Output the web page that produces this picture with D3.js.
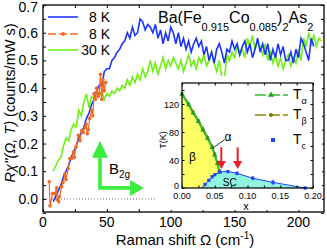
<!DOCTYPE html>
<html><head><meta charset="utf-8">
<script src="https://cdn.jsdelivr.net/npm/d3@7/dist/d3.min.js"></script>
<style>body{margin:0;background:#fff}svg{display:block;font-family:"Liberation Sans",Arial,sans-serif}</style>
</head><body><svg id="c" width="327" height="248"></svg>
<script>
// ---- main chart data ----
const blueX = [8,10,12,14,16,18,20,22,24,26,28,30,32,34,36,38,40,42,44,46,48,50,52,54,56,58,60,62,64,66,68,70,72,74,76,78,80,82,84,86,88,90,92,94,96,98,100,102,104,106,108,110,112,114,116,118,120,122,124,126,128,130,132,134,136,138,140,142,144,146,148,150,152,154,156,158,160,162,164,166,168,170,172,174,176,178,180,182,184,186,188,190,192,194,196,198,200,202,204,206,208,210,212];
const blueY = [-0.01,0.01,0.03,0.05,0.08,0.10,0.12,0.15,0.17,0.19,0.22,0.24,0.26,0.29,0.31,0.34,0.36,0.39,0.41,0.41,0.46,0.47,0.47,0.50,0.51,0.53,0.54,0.56,0.57,0.60,0.58,0.62,0.59,0.60,0.65,0.64,0.61,0.63,0.62,0.60,0.63,0.58,0.61,0.56,0.60,0.57,0.62,0.60,0.56,0.60,0.55,0.58,0.54,0.57,0.53,0.56,0.58,0.55,0.57,0.52,0.55,0.50,0.53,0.49,0.54,0.56,0.53,0.49,0.54,0.53,0.57,0.54,0.56,0.52,0.55,0.57,0.53,0.56,0.51,0.54,0.58,0.53,0.56,0.52,0.56,0.50,0.54,0.51,0.56,0.52,0.55,0.50,0.50,0.53,0.49,0.54,0.51,0.58,0.56,0.53,0.50,0.58,0.55,0.59,0.47];
const greenX = [8,10,12,14,16,18,20,22,24,26,28,30,32,34,36,38,40,42,44,46,48,50,52,54,56,58,60,62,64,66,68,70,72,74,76,78,80,82,84,86,88,90,92,94,96,98,100,102,104,106,108,110,112,114,116,118,120,122,124,126,128,130,132,134,136,138,140,142,144,146,148,150,152,154,156,158,160,162,164,166,168,170,172,174,176,178,180,182,184,186,188,190,192,194,196,198,200,202,204,206,208,210,212,214,216,218];
const greenY = [0.10,0.12,0.14,0.15,0.19,0.22,0.21,0.25,0.27,0.26,0.32,0.30,0.35,0.38,0.33,0.37,0.36,0.39,0.37,0.39,0.36,0.38,0.37,0.39,0.38,0.40,0.39,0.41,0.40,0.43,0.41,0.44,0.42,0.45,0.43,0.47,0.44,0.46,0.50,0.46,0.49,0.45,0.48,0.51,0.47,0.50,0.48,0.51,0.49,0.47,0.50,0.46,0.49,0.52,0.48,0.50,0.47,0.51,0.49,0.52,0.48,0.50,0.53,0.49,0.46,0.50,0.44,0.43,0.52,0.50,0.53,0.51,0.55,0.52,0.54,0.51,0.58,0.55,0.59,0.54,0.57,0.55,0.52,0.56,0.50,0.53,0.49,0.52,0.48,0.51,0.47,0.50,0.52,0.48,0.51,0.49,0.54,0.50,0.58,0.55,0.60,0.56,0.59,0.55,0.58,0.57];
const orangeX = [4.9,5.5,7.6,9.4,10.7,11.2,12.3,12.8,14.6,15.7,17.2,18,19.8,21,22.4,23.8,24.5,25.8,27.7,29,30.3,31.5,32.9,33.8,34.7,35.5,36.5,38,39,40,41,42,43,44,45,46,47,48,49];
const orangeY = [0.062,-0.025,0.02,0.02,0.04,-0.003,-0.01,0.008,0.044,0.06,0.09,0.07,0.11,0.146,0.146,0.17,0.15,0.187,0.23,0.21,0.246,0.24,0.258,0.27,0.235,0.25,0.29,0.32,0.30,0.38,0.36,0.40,0.37,0.38,0.45,0.36,0.43,0.39,0.42];
const legendLabels = ["8 K","8 K","30 K"];
const xTicks = [0,50,100,150,200];
const yTicks = [0.0,0.1,0.2,0.3,0.4,0.5,0.6,0.7];

// ---- inset (phase diagram) data ----
const phaseX = [0,0.01,0.017,0.025,0.032,0.039,0.046,0.05,0.054,0.057];
const tBeta  = [135,121,109,97,85,73,60,49,37,25];
const tAlpha = [134,119,107,95,83,71,58,47,35,23];
const scX   = [0.03,0.035,0.041,0.046,0.05,0.058,0.07,0.084,0.108,0.139,0.188];
const tc    = [0,5,11,16,19,23,23.5,21,14,8,0];
const tcErr = [0,2,2,2,2,2,2,3,3,4,2];
const arrowX = [0.06,0.085];
const inXTicks = [0,0.05,0.1,0.15,0.2];
const inYTicks = [0,40,80,120];

const svg = d3.select("#c");
const x = d3.scaleLinear().domain([0,220]).range([43,324]);
const y = d3.scaleLinear().domain([-0.047,0.7]).range([212,5]);
const BLUE="#1a35ff", GREEN="#6ef010", ORANGE="#f26a22";

svg.append("line").attr("x1",x(0)).attr("x2",x(90)).attr("y1",y(0)).attr("y2",y(0))
  .attr("stroke","#666").attr("stroke-width",1).attr("stroke-dasharray","1,2");

const line = d3.line().x(d=>x(d[0])).y(d=>y(d[1]));
const z = (a,b)=>a.map((v,i)=>[v,b[i]]);
svg.append("path").datum(z(greenX,greenY)).attr("d",line).attr("fill","none").attr("stroke",GREEN).attr("stroke-width",1.6);
svg.append("path").datum(z(blueX,blueY)).attr("d",line).attr("fill","none").attr("stroke",BLUE).attr("stroke-width",1.6);
svg.append("path").datum(z(orangeX,orangeY)).attr("d",line).attr("fill","none").attr("stroke",ORANGE).attr("stroke-width",1.2);
svg.append("g").selectAll("circle").data(z(orangeX,orangeY)).join("circle")
  .attr("cx",d=>x(d[0])).attr("cy",d=>y(d[1])).attr("r",1.8).attr("fill",ORANGE);

const gb = svg.append("g").attr("transform",`translate(0,${y.range()[0]})`);
gb.call(d3.axisBottom(x).tickValues(d3.range(0,221,25)).tickSize(-3).tickFormat(""));
const gt = svg.append("g").attr("transform",`translate(0,${y.range()[1]})`);
gt.call(d3.axisTop(x).tickValues(d3.range(0,221,25)).tickSize(-3).tickFormat(""));
const gl = svg.append("g").attr("transform",`translate(${x.range()[0]},0)`);
gl.call(d3.axisLeft(y).tickValues(d3.range(-0.05,0.701,0.05)).tickSize(-3).tickFormat(""));
const gr = svg.append("g").attr("transform",`translate(${x.range()[1]},0)`);
gr.call(d3.axisRight(y).tickValues(d3.range(-0.05,0.701,0.05)).tickSize(-3).tickFormat(""));
[gb,gt,gl,gr].forEach(g=>{g.select(".domain").remove(); g.selectAll("line").attr("stroke","#000");});
svg.append("rect").attr("x",x.range()[0]).attr("y",y.range()[1]).attr("width",x.range()[1]-x.range()[0])
  .attr("height",y.range()[0]-y.range()[1]).attr("fill","none").attr("stroke","#000").attr("stroke-width",1.3);
svg.append("g").selectAll("text").data(xTicks).join("text").attr("x",d=>x(d)).attr("y",227)
  .attr("text-anchor","middle").attr("font-size",14).text(d=>d);
svg.append("g").selectAll("text").data(yTicks).join("text").attr("x",38).attr("y",d=>Math.max(y(d)+5,12))
  .attr("text-anchor","end").attr("font-size",14).text(d=>d.toFixed(1));

const xl = svg.append("text").attr("x",185).attr("y",245).attr("text-anchor","middle").attr("font-size",15);
xl.append("tspan").text("Raman shift Ω (cm");
xl.append("tspan").attr("font-size",10).attr("dy",-6).text("-1");
xl.append("tspan").attr("dy",6).text(")");
const yl = svg.append("text").attr("transform","translate(15,103) rotate(-90)").attr("text-anchor","middle").attr("font-size",14.5);
yl.append("tspan").attr("font-style","italic").text("Rχ''(Ω, T)");
yl.append("tspan").text(" (counts/mW s)");

const tt = svg.append("text").attr("x",158).attr("y",23).attr("font-size",16);
tt.append("tspan").text("Ba(Fe");
tt.append("tspan").attr("font-size",11).attr("dy",8).text("0.915");
tt.append("tspan").attr("dy",-8).text("Co");
tt.append("tspan").attr("font-size",11).attr("dy",8).text("0.085");
tt.append("tspan").attr("dy",-8).text(")");
tt.append("tspan").attr("font-size",11).attr("dy",8).text("2");
tt.append("tspan").attr("dy",-8).text("As");
tt.append("tspan").attr("font-size",11).attr("dy",8).text("2");

const legY=[17,34,50], legC=[BLUE,ORANGE,GREEN];
legendLabels.forEach((t,i)=>{
  svg.append("line").attr("x1",48).attr("x2",78).attr("y1",legY[i]).attr("y2",legY[i])
    .attr("stroke",legC[i]).attr("stroke-width",1.6).attr("stroke-dasharray",i==1?"8,3":null);
  if(i==1) svg.append("circle").attr("cx",63).attr("cy",legY[i]).attr("r",2).attr("fill",ORANGE);
  svg.append("text").attr("x",110).attr("y",legY[i]+5).attr("text-anchor","end").attr("font-size",14).text(t);
});

const AG="#3ded3d";
const bx=x(44.6), by=y(0.04), ty=y(0.21), rx=x(79);
svg.append("path").attr("d",`M${bx-1.8},${by+1.8}V${ty+17}H${bx-8}L${bx},${ty}L${bx+8},${ty+17}H${bx+1.8}V${by-1.8}H${rx-14}V${by-8}L${rx},${by}L${rx-14},${by+8}V${by+1.8}Z`).attr("fill",AG);
const bt = svg.append("text").attr("x",bx+9).attr("y",by-14).attr("font-size",15);
bt.append("tspan").text("B");
bt.append("tspan").attr("font-size",10).attr("dy",4).text("2g");

// ---- inset ----
svg.append("rect").attr("x",157).attr("y",76).attr("width",165).attr("height",134).attr("fill","#fff");
const ix = d3.scaleLinear().domain([0,0.2]).range([182,313]);
const iy = d3.scaleLinear().domain([0,150]).range([188,83]);
const betaPts = phaseX.map((v,i)=>[v,tBeta[i]]);
const domeL = scX.map((v,i)=>[v,tc[i]]).filter(d=>d[0]<=0.058).reverse();
const yellowPoly=[[0,0],...betaPts,...domeL,[0.03,0]];
const il = d3.line().x(d=>ix(d[0])).y(d=>iy(d[1]));
svg.append("path").attr("d",il(yellowPoly)+"Z").attr("fill","#ffff66");
const cyanPoly = scX.map((v,i)=>[v,tc[i]]);
svg.append("path").attr("d",il(cyanPoly)+"Z").attr("fill","#8ff3e0");
svg.append("path").attr("d",il(betaPts)).attr("fill","none").attr("stroke","#8a8a00").attr("stroke-width",1.5);
svg.append("path").attr("d",il(phaseX.map((v,i)=>[v,tAlpha[i]]))).attr("fill","none").attr("stroke","#2fbf2f").attr("stroke-width",2);
svg.append("g").selectAll("circle").data(betaPts).join("circle").attr("cx",d=>ix(d[0])).attr("cy",d=>iy(d[1])).attr("r",1.4).attr("fill","#7a7a00");
svg.append("g").selectAll("path").data(phaseX.map((v,i)=>[v,tAlpha[i]])).join("path")
  .attr("d",d3.symbol(d3.symbolTriangle,12)).attr("transform",d=>`translate(${ix(d[0])},${iy(d[1])})`).attr("fill","#1f9f1f");
svg.append("path").attr("d",il(cyanPoly)).attr("fill","none").attr("stroke","#2244ff").attr("stroke-width",1);
svg.append("g").selectAll("line").data(cyanPoly.map((d,i)=>[d[0],d[1],tcErr[i]])).join("line")
  .attr("x1",d=>ix(d[0])).attr("x2",d=>ix(d[0])).attr("y1",d=>iy(d[1]-d[2])).attr("y2",d=>iy(d[1]+d[2])).attr("stroke","#2244ff");
svg.append("g").selectAll("rect").data(cyanPoly.slice(1)).join("rect")
  .attr("x",d=>ix(d[0])-1.6).attr("y",d=>iy(d[1])-1.6).attr("width",3.2).attr("height",3.2).attr("fill","#2244ff");
arrowX.forEach(a=>{
  const ax=ix(a), a1=iy(58), a2=iy(27);
  svg.append("line").attr("x1",ax).attr("x2",ax).attr("y1",a1).attr("y2",a2-6).attr("stroke","#ee1c24").attr("stroke-width",2);
  svg.append("path").attr("d",`M${ax-4.5},${a2-8}L${ax+4.5},${a2-8}L${ax},${a2}Z`).attr("fill","#ee1c24");
});
svg.append("line").attr("x1",ix(0.047)).attr("y1",iy(57)).attr("x2",ix(0.065)).attr("y2",iy(69)).attr("stroke","#000").attr("stroke-width",0.8);
svg.append("text").attr("x",ix(0.07)).attr("y",iy(73)+4).attr("text-anchor","middle").attr("font-size",12).text("α");
svg.append("text").attr("x",ix(0.016)).attr("y",iy(44)+4).attr("text-anchor","middle").attr("font-size",12).text("β");
svg.append("text").attr("x",ix(0.073)).attr("y",iy(9)+4).attr("text-anchor","middle").attr("font-size",10).text("SC");
const ib = svg.append("g").attr("transform",`translate(0,${iy(0)})`).call(d3.axisBottom(ix).tickValues(d3.range(0,0.2001,0.025)).tickSize(-2.5).tickFormat(""));
const it = svg.append("g").attr("transform",`translate(0,${iy(150)})`).call(d3.axisTop(ix).tickValues(d3.range(0,0.2001,0.025)).tickSize(-2.5).tickFormat(""));
const ilf = svg.append("g").attr("transform",`translate(${ix(0)},0)`).call(d3.axisLeft(iy).tickValues(d3.range(0,151,20)).tickSize(-2.5).tickFormat(""));
const irt = svg.append("g").attr("transform",`translate(${ix(0.2)},0)`).call(d3.axisRight(iy).tickValues(d3.range(0,151,20)).tickSize(-2.5).tickFormat(""));
[ib,it,ilf,irt].forEach(g=>{g.select(".domain").remove(); g.selectAll("line").attr("stroke","#000");});
svg.append("rect").attr("x",ix(0)).attr("y",iy(150)).attr("width",ix(0.2)-ix(0)).attr("height",iy(0)-iy(150))
  .attr("fill","none").attr("stroke","#000").attr("stroke-width",1.2);
svg.append("g").selectAll("text").data(inXTicks).join("text").attr("x",d=>ix(d)).attr("y",199)
  .attr("text-anchor","middle").attr("font-size",9).text(d=>d.toFixed(2));
svg.append("g").selectAll("text").data(inYTicks).join("text").attr("x",179).attr("y",d=>iy(d)+(d==0?1:3.5))
  .attr("text-anchor","end").attr("font-size",9).text(d=>d);
svg.append("text").attr("transform","translate(166,140) rotate(-90)").attr("text-anchor","middle").attr("font-size",9).text("T(K)");
svg.append("text").attr("x",246).attr("y",210).attr("text-anchor","middle").attr("font-size",11).text("x");
const il2=[{y:95,c:"#2fbf2f",s:"α",m:"tri"},{y:115,c:"#8a8a00",s:"β",m:"circ"},{y:140,c:"#2244ff",s:"c",m:"sq"}];
il2.forEach(d=>{
  if(d.m!="sq"){
    svg.append("line").attr("x1",255).attr("x2",288).attr("y1",d.y).attr("y2",d.y).attr("stroke",d.c).attr("stroke-width",1.5).attr("stroke-dasharray","11,3");
  }
  if(d.m=="tri") svg.append("path").attr("d",d3.symbol(d3.symbolTriangle,16)).attr("transform",`translate(271,${d.y})`).attr("fill","#1f9f1f");
  if(d.m=="circ") svg.append("circle").attr("cx",271).attr("cy",d.y).attr("r",2).attr("fill","#7a7a00");
  if(d.m=="sq") svg.append("rect").attr("x",271).attr("y",d.y-2).attr("width",4).attr("height",4).attr("fill",d.c);
  const t=svg.append("text").attr("x",293).attr("y",d.y+4).attr("font-size",14);
  t.append("tspan").text("T");
  t.append("tspan").attr("font-size",9).attr("dy",5).text(d.s);
});
</script></body></html>
